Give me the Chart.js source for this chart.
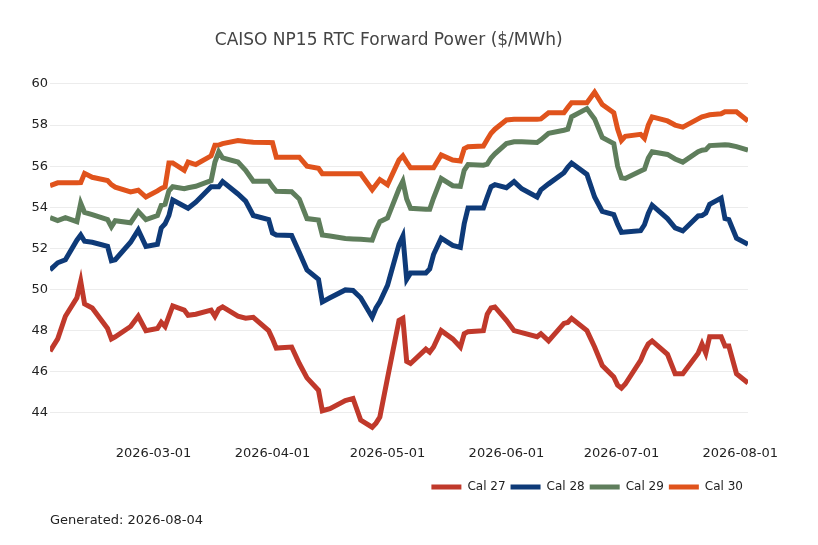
<!DOCTYPE html>
<html>
<head>
<meta charset="utf-8">
<script src="https://cdn.jsdelivr.net/npm/chart.js@4.4.1/dist/chart.umd.min.js"></script>
<style>
  html, body { margin: 0; padding: 0; background: #fff; }
  #wrap { position: relative; width: 818px; height: 545px; }
  #note { position: absolute; left: 50px; top: 512px; font: 13px "DejaVu Sans", sans-serif; color: #222; }
</style>
</head>
<body>
<div id="wrap">
  <canvas id="chart" width="818" height="545"></canvas>
  <div id="note">Generated: 2026-08-04</div>
</div>
<script>
// Dates de cotation (jours ouvrés échantillonnés)
const dates = [
  '2026-02-02','2026-02-04','2026-02-06','2026-02-09','2026-02-10','2026-02-11','2026-02-13','2026-02-17','2026-02-18','2026-02-19','2026-02-23','2026-02-25','2026-02-27',
  '2026-03-02','2026-03-03','2026-03-04','2026-03-05','2026-03-06','2026-03-09','2026-03-10','2026-03-12','2026-03-16','2026-03-17','2026-03-18','2026-03-19','2026-03-23','2026-03-25','2026-03-27','2026-03-31',
  '2026-04-01','2026-04-02','2026-04-06','2026-04-08','2026-04-10','2026-04-13','2026-04-14','2026-04-16','2026-04-20','2026-04-22','2026-04-24','2026-04-27','2026-04-28','2026-04-29',
  '2026-05-01','2026-05-04','2026-05-05','2026-05-06','2026-05-07','2026-05-11','2026-05-12','2026-05-13','2026-05-15','2026-05-18','2026-05-20','2026-05-21','2026-05-22','2026-05-26','2026-05-27','2026-05-28','2026-05-29',
  '2026-06-01','2026-06-03','2026-06-05','2026-06-09','2026-06-10','2026-06-12','2026-06-16','2026-06-17','2026-06-18','2026-06-22','2026-06-24','2026-06-26','2026-06-29','2026-06-30',
  '2026-07-01','2026-07-02','2026-07-06','2026-07-07','2026-07-08','2026-07-09','2026-07-13','2026-07-15','2026-07-17','2026-07-21','2026-07-22','2026-07-23','2026-07-24','2026-07-27','2026-07-28','2026-07-29','2026-07-31',
  '2026-08-03'
];

const cal27 = [
  47.0, 47.6, 48.7, 49.6, 50.4, 49.3, 49.1, 48.1, 47.6, 47.7, 48.2, 48.7, 48.0,
  48.1, 48.4, 48.2, 48.7, 49.2, 49.0, 48.75, 48.8, 49.0, 48.7, 49.05, 49.15, 48.7, 48.6, 48.65, 48.0,
  47.6, 47.15, 47.2, 46.4, 45.7, 45.1, 44.1, 44.2, 44.6, 44.7, 43.65, 43.3, 43.5, 43.8,
  45.7, 48.5, 48.6, 46.5, 46.4, 47.1, 46.95, 47.2, 48.0, 47.6, 47.2, 47.85, 47.95, 48.0, 48.8, 49.1, 49.15,
  48.5, 48.0, 47.9, 47.7, 47.85, 47.5, 48.35, 48.4, 48.6, 48.0, 47.2, 46.3, 45.75, 45.35,
  45.2, 45.4, 46.55, 47.0, 47.35, 47.5, 46.85, 45.9, 45.9, 46.9, 47.35, 46.9, 47.7, 47.7, 47.25, 47.25, 45.9,
  45.45
];

const cal28 = [
  50.95, 51.3, 51.45, 52.4, 52.65, 52.35, 52.3, 52.1, 51.4, 51.45, 52.3, 52.9, 52.1,
  52.2, 53.0, 53.2, 53.6, 54.35, 54.05, 53.95, 54.25, 55.0, 55.0, 55.0, 55.25, 54.65, 54.3, 53.6, 53.4,
  52.75, 52.65, 52.63, 51.8, 50.95, 50.5, 49.4, 49.6, 49.98, 49.95, 49.6, 48.65, 49.1, 49.4,
  50.2, 52.2, 52.6, 50.5, 50.8, 50.8, 51.0, 51.7, 52.5, 52.15, 52.05, 53.2, 53.97, 53.97, 54.5, 55.0, 55.1,
  54.95, 55.25, 54.9, 54.5, 54.85, 55.14, 55.68, 55.95, 56.15, 55.6, 54.5, 53.8, 53.64, 53.17,
  52.78, 52.8, 52.86, 53.15, 53.7, 54.1, 53.45, 53.0, 52.85, 53.58, 53.6, 53.72, 54.15, 54.45, 53.45, 53.4, 52.5,
  52.2
];

const cal29 = [
  53.5, 53.35, 53.5, 53.3, 54.2, 53.75, 53.64, 53.4, 53.05, 53.35, 53.25, 53.8, 53.4,
  53.6, 54.1, 54.15, 54.8, 55.0, 54.9, 54.95, 55.02, 55.3, 56.2, 56.7, 56.4, 56.2, 55.8, 55.27, 55.27,
  55.0, 54.78, 54.76, 54.4, 53.45, 53.38, 52.65, 52.6, 52.48, 52.46, 52.44, 52.4, 52.9, 53.3,
  53.48, 54.9, 55.27, 54.4, 53.95, 53.9, 53.9, 54.45, 55.4, 55.05, 55.02, 55.8, 56.08, 56.05, 56.1, 56.4, 56.6,
  57.1, 57.19, 57.19, 57.15, 57.28, 57.6, 57.75, 57.8, 58.4, 58.8, 58.3, 57.4, 57.1, 56.0,
  55.43, 55.4, 55.76, 55.85, 56.4, 56.7, 56.57, 56.35, 56.2, 56.7, 56.78, 56.8, 57.0, 57.03, 57.04, 57.03, 56.95,
  56.78
];

const cal30 = [
  55.05, 55.19, 55.19, 55.19, 55.2, 55.65, 55.46, 55.3, 55.1, 54.98, 54.75, 54.83, 54.5,
  54.8, 54.92, 55.0, 56.16, 56.16, 55.8, 56.2, 56.08, 56.5, 57.02, 57.03, 57.1, 57.25, 57.2, 57.17, 57.15,
  57.14, 56.44, 56.44, 56.44, 56.0, 55.9, 55.63, 55.63, 55.63, 55.63, 55.63, 54.85, 55.1, 55.35,
  55.1, 56.3, 56.5, 56.2, 55.92, 55.92, 55.92, 55.92, 56.55, 56.3, 56.25, 56.85, 56.95, 56.98, 57.3, 57.6, 57.8,
  58.25, 58.28, 58.28, 58.28, 58.3, 58.6, 58.6, 58.85, 59.09, 59.09, 59.6, 59.0, 58.6, 57.8,
  57.25, 57.45, 57.55, 57.35, 58.0, 58.4, 58.2, 58.0, 57.9, 58.3, 58.4, 58.45, 58.5, 58.55, 58.65, 58.65, 58.65,
  58.2
];

const xTicks = ['2026-03-01','2026-04-01','2026-05-01','2026-06-01','2026-07-01','2026-08-01'];
const yTicks = [44, 46, 48, 50, 52, 54, 56, 58, 60];

const seriesNames = ['Cal 27', 'Cal 28', 'Cal 29', 'Cal 30'];
const seriesColors = ['#C0392B', '#0E3A78', '#5F7E5C', '#E0531C'];

// date ISO -> numéro de jour
const toDay = s => Date.UTC(+s.slice(0, 4), +s.slice(5, 7) - 1, +s.slice(8, 10)) / 86400000;
const fromDay = d => new Date(d * 86400000).toISOString().slice(0, 10);

const allSeries = [cal27, cal28, cal29, cal30];
const datasets = allSeries.map((vals, i) => ({
    label: seriesNames[i],
    data: vals.map((v, j) => ({ x: toDay(dates[j]), y: v })),
    borderColor: seriesColors[i],
    backgroundColor: seriesColors[i],
    borderWidth: 5,
    pointRadius: 0,
    tension: 0
}));

const ctx = document.getElementById('chart').getContext('2d');
const chart = new Chart(ctx, {
    type: 'line',
    data: { datasets: datasets },
    options: {
        responsive: false,
        animation: false,
        devicePixelRatio: 1,
        layout: { padding: { left: 29.5, right: 70, top: 0, bottom: 42 } },
        plugins: {
            title: {
                display: true,
                text: 'CAISO NP15 RTC Forward Power ($/MWh)',
                color: '#444',
                font: { family: 'DejaVu Sans', size: 17, weight: 'normal' },
                padding: { top: 30, bottom: 13 }
            },
            legend: {
                position: 'bottom',
                align: 'end',
                labels: {
                    color: '#222',
                    font: { family: 'DejaVu Sans', size: 12 },
                    boxWidth: 30,
                    boxHeight: 5,
                    padding: 5,
                    // pas de contour sur les carrés de légende
                    generateLabels: c => Chart.defaults.plugins.legend.labels.generateLabels(c)
                        .map(l => Object.assign(l, { lineWidth: 0 }))
                }
            },
            tooltip: { enabled: false }
        },
        scales: {
            x: {
                type: 'linear',
                min: toDay(dates[0]),
                max: toDay(dates[dates.length - 1]),
                afterBuildTicks: axis => { axis.ticks = xTicks.map(d => ({ value: toDay(d) })); },
                afterFit: axis => { axis.height += 2; },
                grid: { display: false, drawTicks: false },
                border: { display: false },
                ticks: {
                    color: '#222',
                    font: { family: 'DejaVu Sans', size: 13 },
                    padding: 12.5,
                    maxRotation: 0,
                    autoSkip: false,
                    callback: v => fromDay(v)
                }
            },
            y: {
                min: 43,
                max: 61,
                afterBuildTicks: axis => { axis.ticks = yTicks.map(v => ({ value: v })); },
                grid: { color: '#ececec', lineWidth: 1, drawTicks: false },
                border: { display: false },
                ticks: {
                    color: '#222',
                    font: { family: 'DejaVu Sans', size: 13 },
                    padding: 2
                }
            }
        }
    }
});
</script>
</body>
</html>
